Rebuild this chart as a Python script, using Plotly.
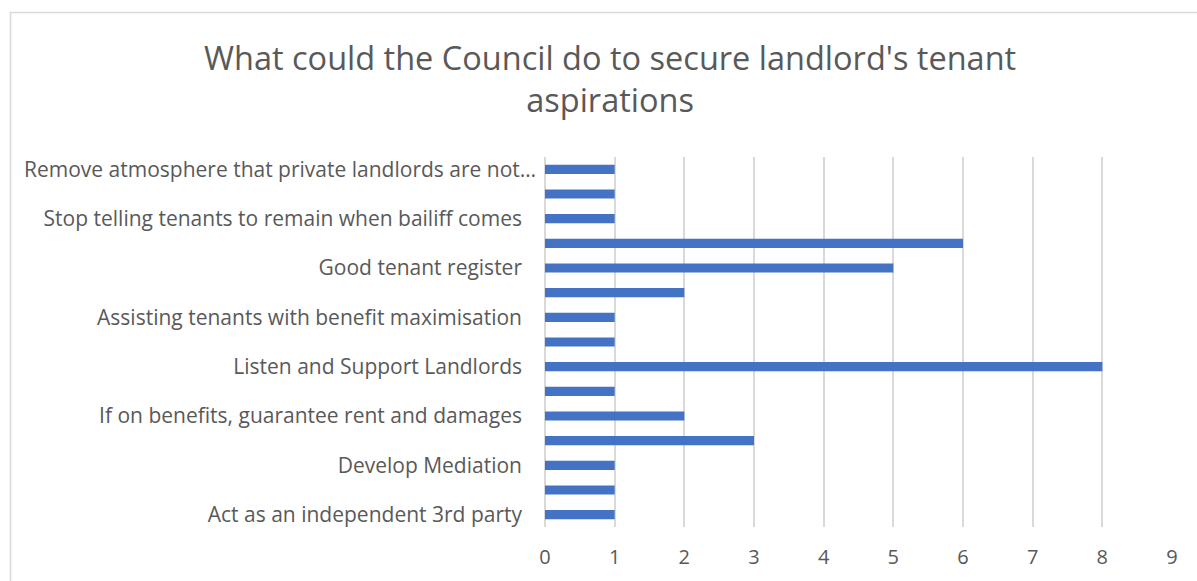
import plotly.graph_objects as go

# Responses, listed bottom to top; only every other category carries a visible label
tick_labels = [
    "Act as an independent 3rd party",
    "Develop Mediation",
    "If on benefits, guarantee rent and damages",
    "Listen and Support Landlords",
    "Assisting tenants with benefit maximisation",
    "Good tenant register",
    "Stop telling tenants to remain when bailiff comes",
    "Remove atmosphere that private landlords are not…",
]
counts = [1, 1, 1, 3, 2, 1, 8, 1, 1, 2, 5, 6, 1, 1, 1]
x_ticks = list(range(0, 10))

W, H = 1197, 581
L, R, T, B = 545, 25, 157, 54
pw = W - L - R
ph = H - T - B

positions = list(range(len(counts)))
label_positions = positions[::2]

fig = go.Figure(
    go.Bar(
        x=counts,
        y=positions,
        orientation="h",
        marker=dict(color="#4472C4", line=dict(width=0)),
        width=0.37,
        hoverinfo="x",
    )
)

font_family = "'Open Sans', sans-serif"
label_font = dict(size=21, color="#595959", family=font_family)

fig.update_layout(
    width=W,
    height=H,
    margin=dict(l=L, r=R, t=T, b=B),
    paper_bgcolor="white",
    plot_bgcolor="white",
    showlegend=False,
    font=dict(family=font_family, color="#595959"),
    bargap=0.63,
)

fig.update_xaxes(
    range=[0, 9],
    tickvals=x_ticks,
    ticktext=[str(v) for v in x_ticks],
    showgrid=True,
    gridcolor="#D9D9D9",
    gridwidth=1.5,
    zeroline=True,
    zerolinecolor="#D9D9D9",
    zerolinewidth=1.5,
    showline=False,
    ticks="",
    tickfont=dict(size=20, color="#595959"),
    ticklabelstandoff=16,
    automargin=False,
    fixedrange=True,
)

# The truncated top label sits a little further right than the others,
# so it is drawn as an annotation on the category's row
axis_text = tick_labels[:-1] + [""]
fig.update_yaxes(
    range=[-0.5, len(counts) - 0.5],
    tickvals=label_positions,
    ticktext=axis_text,
    showgrid=False,
    zeroline=False,
    showline=False,
    ticks="",
    tickfont=label_font,
    ticklabelstandoff=22,
    automargin=False,
    fixedrange=True,
)

fig.add_annotation(
    text=tick_labels[-1],
    xref="paper", yref="y",
    x=(538 - L) / pw, y=label_positions[-1],
    xanchor="right", yanchor="middle",
    showarrow=False,
    font=label_font,
)

# Chart title, two lines
title_cx = (609.5 - L) / pw
fig.add_annotation(
    text="What could the Council do to secure landlord's tenant<br>aspirations",
    xref="paper", yref="paper",
    x=title_cx, y=(H - 33 - B) / ph,
    xanchor="center", yanchor="top",
    showarrow=False,
    align="center",
    font=dict(size=32.5, color="#595959", family=font_family),
)

# Chart area border
fig.add_shape(
    type="rect",
    xref="paper", yref="paper",
    x0=(10.5 - L) / pw, x1=(W + 20 - L) / pw,
    y0=(-20 - B) / ph, y1=(H - 12.5 - B) / ph,
    line=dict(color="#D9D9D9", width=1.5),
    fillcolor="rgba(0,0,0,0)",
    layer="below",
)

fig.write_html("out.html")
